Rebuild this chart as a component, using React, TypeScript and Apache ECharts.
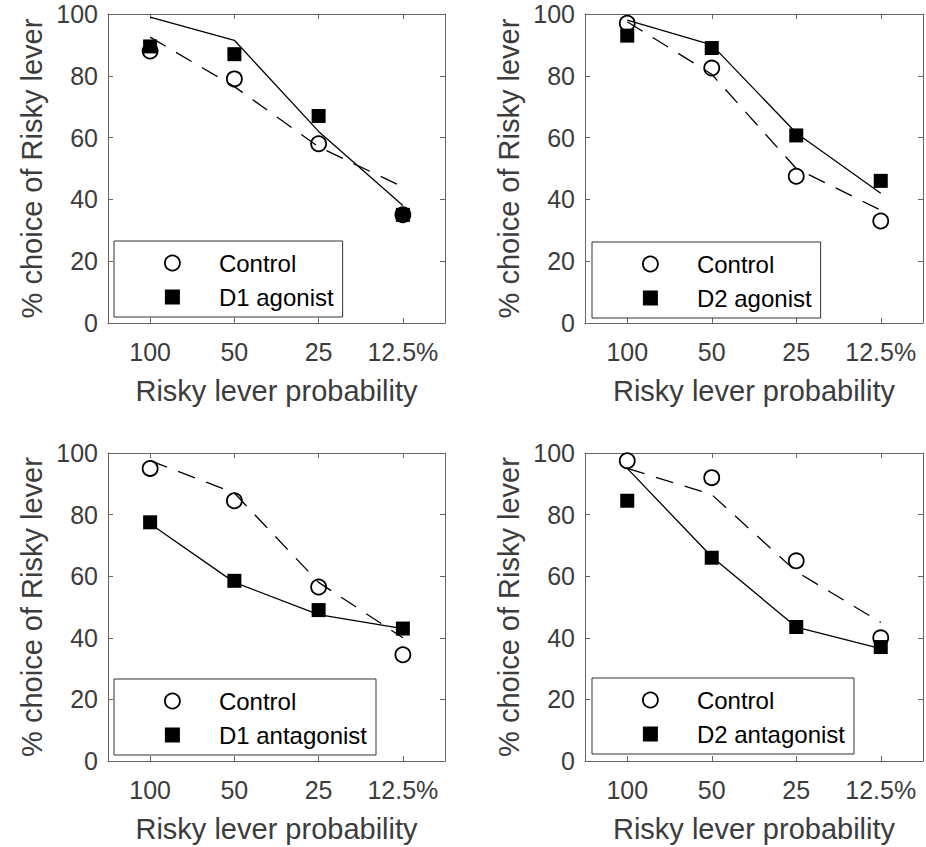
import React, { useEffect, useRef } from "react";
import * as echarts from "echarts";

// ---------- Data ----------
const categories = ["100", "50", "25", "12.5%"];
const yTicks = { min: 0, max: 100, interval: 20 };

// Panel 1: D1 agonist
const control1 = [88, 79, 58, 35];
const d1Agonist = [89.5, 87, 67, 35];
const control1Fit = [92.5, 76.5, 57, 44];
const d1AgonistFit = [99, 91.5, 62, 38];

// Panel 2: D2 agonist
const control2 = [97, 82.5, 47.5, 33];
const d2Agonist = [93, 89, 60.7, 46];
const control2Fit = [97.5, 80.5, 50, 36.5];
const d2AgonistFit = [98, 90, 61.5, 42];

// Panel 3: D1 antagonist
const control3 = [95, 84.5, 56.5, 34.5];
const d1Antagonist = [77.5, 58.5, 49, 43];
const control3Fit = [97.5, 87, 58, 40];
const d1AntagonistFit = [77, 58, 47.5, 43];

// Panel 4: D2 antagonist
const control4 = [97.5, 92, 65, 40];
const d2Antagonist = [84.5, 66, 43.5, 37];
const control4Fit = [95, 86.5, 61.5, 45];
const d2AntagonistFit = [95, 66.3, 43.5, 36.5];

const controlName = "Control";
const xAxisName = "Risky lever probability";
const yAxisName = "% choice of Risky lever";

// ---------- Layout ----------
const panels = [
  { grid: { left: 108, top: 14, width: 337, height: 309 }, legend: { left: 114, top: 241 },
    control: control1, drug: d1Agonist, controlFit: control1Fit, drugFit: d1AgonistFit, drugName: "D1 agonist" },
  { grid: { left: 585, top: 14, width: 338, height: 309 }, legend: { left: 592, top: 242 },
    control: control2, drug: d2Agonist, controlFit: control2Fit, drugFit: d2AgonistFit, drugName: "D2 agonist" },
  { grid: { left: 108, top: 453, width: 337, height: 308 }, legend: { left: 114, top: 679 },
    control: control3, drug: d1Antagonist, controlFit: control3Fit, drugFit: d1AntagonistFit, drugName: "D1 antagonist" },
  { grid: { left: 585, top: 453, width: 338, height: 308 }, legend: { left: 592, top: 678 },
    control: control4, drug: d2Antagonist, controlFit: control4Fit, drugFit: d2AntagonistFit, drugName: "D2 antagonist" },
];

const FONT = '"Liberation Sans", Arial, Helvetica, sans-serif';
const AXIS_COLOR = "#666";
const TEXT_COLOR = "#3c3c3c";

function buildOption() {
  const grid: any[] = [];
  const xAxis: any[] = [];
  const yAxis: any[] = [];
  const series: any[] = [];
  const legend: any[] = [];

  panels.forEach((p, i) => {
    grid.push({ ...p.grid, containLabel: false });
    const tick = { show: true, inside: true, length: 5, alignWithLabel: true, lineStyle: { color: AXIS_COLOR, width: 1 } };
    const line = { show: true, onZero: false, lineStyle: { color: AXIS_COLOR, width: 1 } };
    xAxis.push({
      type: "category", gridIndex: i, position: "bottom", data: categories, boundaryGap: true,
      axisLine: line, axisTick: tick,
      axisLabel: { interval: 0, margin: 16, fontSize: 25, color: TEXT_COLOR, fontFamily: FONT },
      name: xAxisName, nameLocation: "middle", nameGap: 53,
      nameTextStyle: { fontSize: 29, color: TEXT_COLOR, fontFamily: FONT },
      splitLine: { show: false },
    });
    xAxis.push({
      type: "category", gridIndex: i, position: "top", data: categories, boundaryGap: true,
      axisLine: line, axisTick: tick, axisLabel: { show: false }, splitLine: { show: false },
    });
    yAxis.push({
      type: "value", gridIndex: i, position: "left", ...yTicks,
      axisLine: line, axisTick: { ...tick, alignWithLabel: undefined },
      axisLabel: { margin: 10, fontSize: 25, color: TEXT_COLOR, fontFamily: FONT },
      name: yAxisName, nameLocation: "middle", nameGap: 62,
      nameTextStyle: { fontSize: 29, color: TEXT_COLOR, fontFamily: FONT },
      splitLine: { show: false },
    });
    yAxis.push({
      type: "value", gridIndex: i, position: "right", ...yTicks,
      axisLine: line, axisTick: { ...tick, alignWithLabel: undefined },
      axisLabel: { show: false }, splitLine: { show: false },
    });

    const xi = 2 * i;
    const yi = 2 * i;
    series.push({
      type: "scatter", name: controlName, xAxisIndex: xi, yAxisIndex: yi, data: p.control,
      symbol: "circle", symbolSize: 15, z: 2,
      itemStyle: { color: "#fff", borderColor: "#000", borderWidth: 1.8, opacity: 1 },
    });
    series.push({
      type: "scatter", name: p.drugName, xAxisIndex: xi, yAxisIndex: yi, data: p.drug,
      symbol: "rect", symbolSize: 14, z: 3,
      itemStyle: { color: "#000", borderWidth: 0, opacity: 1 },
    });
    series.push({
      type: "line", name: controlName + " fit " + (i + 1), xAxisIndex: xi, yAxisIndex: yi, data: p.controlFit,
      symbol: "none", z: 4, silent: true,
      lineStyle: { color: "#000", width: 1.3, type: [18, 12] },
    });
    series.push({
      type: "line", name: p.drugName + " fit", xAxisIndex: xi, yAxisIndex: yi, data: p.drugFit,
      symbol: "none", z: 4, silent: true,
      lineStyle: { color: "#000", width: 1.3, type: "solid" },
    });

    legend.push({
      orient: "vertical", left: p.legend.left, top: p.legend.top,
      padding: [10, 9, 8, 50], itemWidth: 15, itemHeight: 15, itemGap: 10,
      borderColor: "#333", borderWidth: 1, backgroundColor: "#fff", borderRadius: 0,
      selectedMode: false,
      textStyle: { fontSize: 24, color: "#000", fontFamily: FONT, lineHeight: 24, padding: [0, 0, 0, 34] },
      data: [
        { name: controlName, icon: "circle", itemStyle: { color: "#fff", borderColor: "#000", borderWidth: 1.8, opacity: 1 } },
        { name: p.drugName, icon: "rect", itemStyle: { color: "#000", borderWidth: 0, opacity: 1 } },
      ],
      z: 10,
    });
  });

  return {
    animation: false,
    backgroundColor: "#fff",
    textStyle: { fontFamily: FONT },
    grid, xAxis, yAxis, series, legend,
  };
}

export default function App() {
  const ref = useRef<HTMLDivElement>(null);
  useEffect(() => {
    if (!ref.current) return;
    const chart = echarts.init(ref.current, undefined, { renderer: "svg" });
    chart.setOption(buildOption() as any);
    return () => chart.dispose();
  }, []);
  return (
    <div
      ref={ref}
      style={{ position: "absolute", left: 0, top: 0, width: 926, height: 847, background: "#fff" }}
    />
  );
}
